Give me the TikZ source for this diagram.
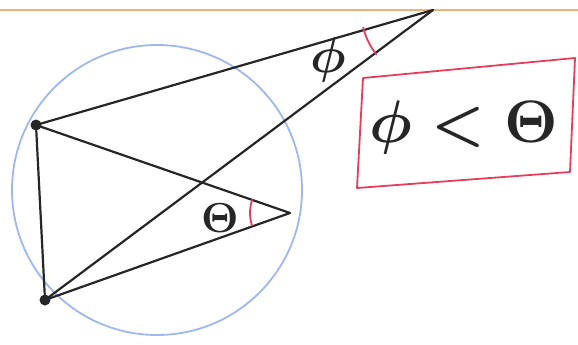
\documentclass[tikz,border=0pt]{standalone}
\usepackage{amsmath}
\begin{document}
\begin{tikzpicture}[x=1pt,y=-1pt,
  ink/.style={line width=2.2pt,draw=black!85,line cap=round,line join=round},
  vert/.style={circle,fill=black!85,inner sep=0pt,minimum size=11pt},
  redline/.style={line width=1.8pt,draw=redink,line cap=round},
  lbl/.style={inner sep=0pt,text=black!85}]
\definecolor{redink}{RGB}{228,62,92}
\definecolor{blueink}{RGB}{158,184,238}
\definecolor{orangeink}{RGB}{240,176,120}
\useasboundingbox (0,0) rectangle (578,345);
% top orange rule
\coordinate (oL) at (0,10);
\coordinate (oR) at (578,10);
\draw[orangeink,line width=1.2pt] (oL) -- (oR);
% blue circle
\node[circle,draw=blueink,line width=1.8pt,minimum size=290pt,inner sep=0pt] (circ) at (157,190) {};
% vertices
\node[vert] (A) at (36,125) {};
\node[vert] (B) at (45,300) {};
\coordinate (C) at (290,213);
\coordinate (P) at (433,10);
% triangle and lines
\draw[ink] (A) -- (B);
\draw[ink] (A.center) -- (C);
\draw[ink] (B.center) -- (C);
\draw[ink] (A.center) -- (P);
\draw[ink] (B.center) -- (P);
% angle arcs
\draw[redline] (P) ++(142:72) arc[start angle=142,end angle=166,radius=72];
\draw[redline] (C) ++(162:40) arc[start angle=162,end angle=199,radius=40];
% angle labels
\node[lbl,scale=5] (phiL) at (328,60) {$\boldsymbol{\phi}$};
\node[lbl,scale=4.2] (thL) at (220,218) {$\boldsymbol{\Theta}$};
% red box
\coordinate (b1) at (363,78);
\coordinate (b2) at (575,58);
\coordinate (b3) at (570,172);
\coordinate (b4) at (357,188);
\draw[redline,line join=round] (b1) -- (b2) -- (b3) -- (b4) -- cycle;
\node[lbl,scale=6] (ineq) at (464,127) {$\boldsymbol{\phi\mathrel{<}\Theta}$};
\end{tikzpicture}
\end{document}
